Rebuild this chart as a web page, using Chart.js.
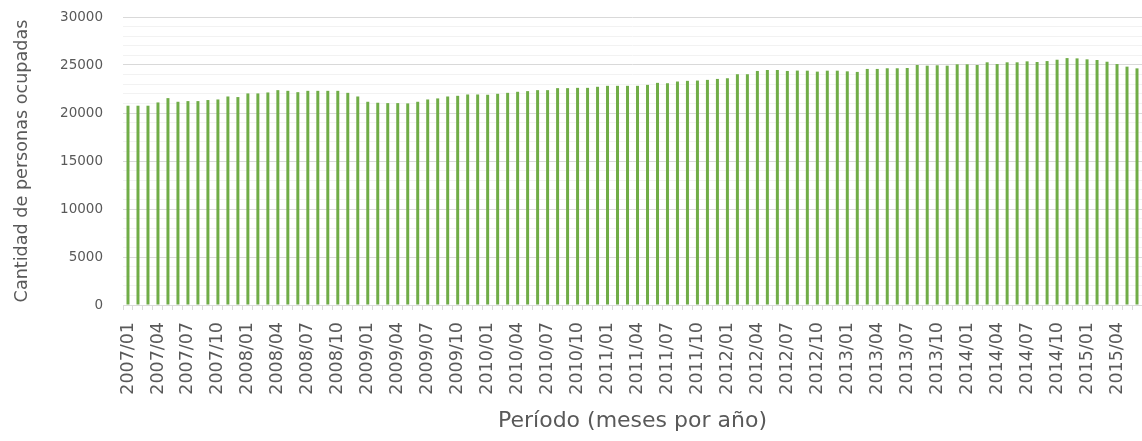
<!DOCTYPE html>
<html>
<head>
<meta charset="utf-8">
<script src="https://cdn.jsdelivr.net/npm/chart.js@4.4.1/dist/chart.umd.min.js"></script>
<style>
    body { margin: 0; background: #ffffff; }
    #wrap { width: 1142px; height: 441px; position: relative; }
</style>
</head>
<body>
<div id="wrap"><canvas id="myChart"></canvas></div>
<script>
// periodos: 2007/01 .. 2015/06
var years = ['2007', '2008', '2009', '2010', '2011', '2012', '2013', '2014', '2015'];
var months = ['01', '02', '03', '04', '05', '06', '07', '08', '09', '10', '11', '12'];
var lastMonth2015 = 6;

// personas ocupadas
var ocupados = [
    20760, 20760, 20760, 21100, 21550, 21170, 21240, 21240, 21350, 21410, 21720, 21660,
    22040, 22040, 22140, 22380, 22310, 22170, 22310, 22310, 22310, 22310, 22100, 21720,
    21170, 21070, 21030, 21030, 21000, 21170, 21410, 21520, 21720, 21790, 21930, 21930,
    21900, 22000, 22100, 22210, 22280, 22380, 22380, 22590, 22590, 22620, 22620, 22730,
    22830, 22830, 22830, 22830, 22930, 23140, 23100, 23280, 23350, 23380, 23450, 23550,
    23620, 24040, 24040, 24380, 24480, 24480, 24380, 24420, 24410, 24310, 24410, 24410,
    24340, 24280, 24590, 24590, 24660, 24660, 24690, 25000, 24930, 24970, 24930, 25070,
    25070, 25000, 25280, 25100, 25280, 25280, 25380, 25310, 25410, 25550, 25720, 25690,
    25590, 25520, 25340, 25100, 24830, 24650
];

var yTicks = [0, 5000, 10000, 15000, 20000, 25000, 30000];

let periodos = [];
for (let y in years) {
    for (let m in months) {
        if (years[y] == '2015' && Number(months[m]) > lastMonth2015) break;
        periodos.push(years[y] + '/' + months[m]);
    }
}

const ctx = document.getElementById('myChart');
const grisTexto = '#595959';

new Chart(ctx, {
    type: 'bar',
    data: {
        labels: periodos,
        datasets: [{
            label: 'Ocupados',
            data: ocupados,
            backgroundColor: '#70AD47',
            borderWidth: 0,
            barPercentage: 0.3,
            categoryPercentage: 1.0
        }]
    },
    options: {
        responsive: true,
        maintainAspectRatio: false,
        animation: false,
        layout: { padding: { left: 0, right: 0, top: 17, bottom: 0 } },
        plugins: {
            legend: { display: false },
            tooltip: { enabled: false }
        },
        scales: {
            x: {
                offset: true,
                grid: {
                    display: true,
                    drawOnChartArea: false,
                    drawTicks: true,
                    tickLength: 5,
                    color: '#d9d9d9',
                    offset: true
                },
                border: { display: true, color: '#d9d9d9', width: 1 },
                ticks: {
                    autoSkip: false,
                    maxRotation: 90,
                    minRotation: 90,
                    padding: 12,
                    color: grisTexto,
                    font: { family: 'DejaVu Sans', size: 17.5 },
                    callback: function (value, index) {
                        return index % 3 == 0 ? periodos[index] : '';
                    }
                },
                title: {
                    display: true,
                    text: 'Período (meses por año)',
                    color: grisTexto,
                    font: { family: 'DejaVu Sans', size: 22 },
                    padding: { top: 2, bottom: 7 }
                },
                afterFit: function (scale) {
                    scale.height = 136;
                    scale.paddingLeft = 0;
                    scale.paddingRight = 0;
                }
            },
            y: {
                min: 0,
                max: 30000,
                grid: {
                    color: function (c) {
                        return yTicks.includes(c.tick.value) ? '#d9d9d9' : '#f2f2f2';
                    },
                    drawTicks: false,
                    lineWidth: 1
                },
                border: { display: false },
                ticks: {
                    stepSize: 1000,
                    autoSkip: false,
                    padding: 20,
                    color: grisTexto,
                    font: { family: 'DejaVu Sans', size: 13.5 },
                    callback: function (value) {
                        return yTicks.includes(value) ? value : '';
                    }
                },
                title: {
                    display: true,
                    text: 'Cantidad de personas ocupadas',
                    color: grisTexto,
                    font: { family: 'DejaVu Sans', size: 17.6 },
                    padding: { top: 12, bottom: 6 }
                },
                afterFit: function (scale) {
                    scale.width = 123;
                    scale.paddingTop = 0;
                    scale.paddingBottom = 0;
                }
            }
        }
    }
});
</script>
</body>
</html>
